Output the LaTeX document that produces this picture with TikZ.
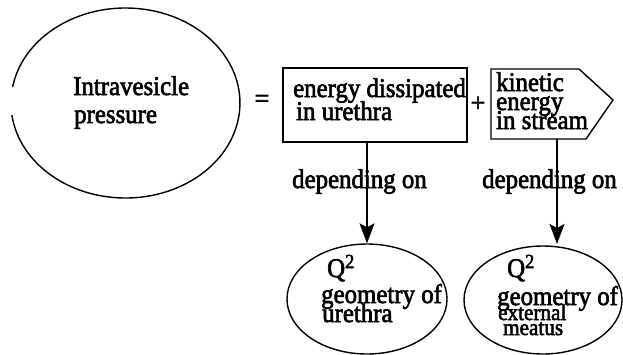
\documentclass[tikz,border=0pt]{standalone}
\usepackage{fontspec}
\setmainfont{Liberation Serif}
\newfontfamily\heavy{Liberation Serif}[FakeBold=2.5]
\usetikzlibrary{arrows.meta,shapes.geometric}
\newcommand{\cx}[1]{\scalebox{0.92}[1]{#1}}
\tikzset{
  shapeline/.style={line width=1.4pt},
  txt/.style={anchor=base west, inner sep=0pt, font=\heavy\fontsize{27}{27}\selectfont},
  smalltxt/.style={anchor=base west, inner sep=0pt, font=\heavy\fontsize{23}{23}\selectfont},
  symb/.style={inner sep=0pt, font=\heavy\fontsize{26}{26}\selectfont},
  dep/.style={line width=1.2pt, -{Stealth[length=20pt,width=15pt,inset=4pt]}},
  oval/.style={draw, shapeline, ellipse, inner sep=0pt},
}
\newcommand{\sqtwo}{\raisebox{9pt}{\fontsize{20}{20}\selectfont 2}}
\begin{document}
\begin{tikzpicture}[x=1pt,y=-1pt]
\useasboundingbox (0,0) rectangle (623,354);
% big ellipse with gap on the left side
\coordinate (bigs) at (12.6,87);
\draw[shapeline] (bigs) arc[start angle=189.7, end angle=532.7, x radius=114.5, y radius=95];
\node[txt] (t1) at (73,95) {\cx{Intravesicle}};
\node[txt] (t2) at (74,123) {\cx{pressure}};
\node[symb] (eq) at (262,101) {=};
% box 1
\node[draw, shapeline, minimum width=184pt, minimum height=74pt, inner sep=0pt] (b1) at (375,105) {};
\node[txt] (t3) at (293,97) {\cx{energy dissipated}};
\node[txt] (t4) at (296,120) {\cx{in urethra}};
\node[symb] (plus) at (478,104) {+};
% box 2 (arrow-shaped)
\draw[shapeline] (491,69) -- (579,69) -- (613,100) -- (586,139) -- (491,139) -- cycle;
\coordinate (b2s) at (557,139);
\node[txt] (t5) at (496,91) {\cx{kinetic}};
\node[txt] (t6) at (496,110) {\cx{energy}};
\node[txt] (t7) at (496,129) {\cx{in stream}};
% bottom ellipses
\node[oval, minimum width=160pt, minimum height=110pt] (e2) at (367,299) {};
\node[oval, minimum width=158pt, minimum height=108pt] (e3) at (543,300) {};
% connectors
\coordinate (a3) at (557,244);
\draw[dep] (e2.north |- b1.south) -- (e2.north);
\draw[dep] (b2s) -- (a3);
\node[txt] (d1) at (292,188) {\cx{depending on}};
\node[txt] (d2) at (482,188) {\cx{depending on}};
% texts in bottom ellipses
\node[txt] (q1) at (327,277) {\cx{Q\sqtwo}};
\node[txt] (g1) at (321,303) {\cx{geometry of}};
\node[txt] (u1) at (322,322) {\cx{urethra}};
\node[txt] (q2) at (507,277) {\cx{Q\sqtwo}};
\node[txt] (g2) at (497,305) {\cx{geometry of}};
\node[smalltxt] (x2) at (498,320) {\cx{external}};
\node[smalltxt] (m2) at (503,335) {\cx{meatus}};
\end{tikzpicture}
\end{document}
